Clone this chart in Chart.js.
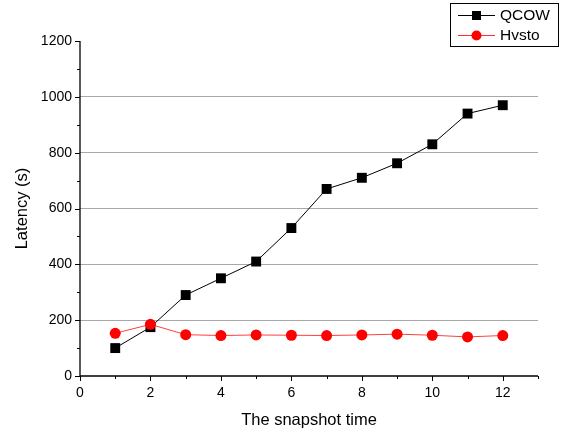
<!DOCTYPE html>
<html><head><meta charset="utf-8">
<script src="https://cdn.jsdelivr.net/npm/chart.js@4/dist/chart.umd.min.js"></script>
<style>html,body{margin:0;padding:0;background:#fff}#wrap{width:566px;height:435px;position:relative}</style>
</head><body><div id="wrap"><canvas id="c" width="566" height="435"></canvas></div>
<script>
const snapshots = [1,2,3,4,5,6,7,8,9,10,11,12];
const qcow = [100,175,290,350,410,530,670,710,762,830,940,970];
const hvsto = [153,185,148,145,147,146,145,147,150,146,140,145];
const seriesNames = ['QCOW','Hvsto'];
const xTitle = 'The snapshot time';
const yTitle = 'Latency (s)';
const FONT = '"Liberation Sans", Arial, sans-serif';

const axisPlugin = {
  id: 'axisTicks',
  afterDraw(chart) {
    const ctx = chart.ctx, x = chart.scales.x, y = chart.scales.y, a = chart.chartArea;
    ctx.save();
    ctx.strokeStyle = '#000'; ctx.lineWidth = 1.3;
    ctx.beginPath();
    ctx.moveTo(a.left, a.top); ctx.lineTo(a.left, a.bottom + 0.5);
    ctx.moveTo(a.left, a.bottom); ctx.lineTo(a.right, a.bottom);
    ctx.stroke();
    ctx.lineWidth = 1;
    ctx.beginPath();
    for (let v = 0; v <= 1200; v += 100) {
      const p = Math.round(y.getPixelForValue(v)) + 0.5;
      const len = v % 200 === 0 ? 5 : 3;
      ctx.moveTo(a.left, p); ctx.lineTo(a.left - len, p);
    }
    for (let v = 0; v <= 13; v += 1) {
      const p = Math.round(x.getPixelForValue(v)) + 0.5;
      const len = v % 2 === 0 ? 5 : 3;
      ctx.moveTo(p, a.bottom); ctx.lineTo(p, a.bottom + len);
    }
    ctx.stroke();
    // legend
    const lx = 450.5, ly = 3.5, lw = 108, lh = 43;
    ctx.fillStyle = '#fff'; ctx.fillRect(lx, ly, lw, lh);
    ctx.strokeStyle = '#000'; ctx.lineWidth = 1; ctx.strokeRect(lx, ly, lw, lh);
    const items = [
      {name: seriesNames[0], color: '#000', style: 'sq', yy: 15},
      {name: seriesNames[1], color: '#ff3030', style: 'ci', yy: 35}
    ];
    ctx.font = '15.5px ' + FONT; ctx.textBaseline = 'middle'; ctx.textAlign = 'left';
    items.forEach(it => {
      ctx.strokeStyle = it.color; ctx.lineWidth = 1;
      ctx.beginPath(); ctx.moveTo(458, it.yy + 0.5); ctx.lineTo(495, it.yy + 0.5); ctx.stroke();
      ctx.fillStyle = it.style === 'sq' ? '#000' : '#ff0000';
      if (it.style === 'sq') ctx.fillRect(472, it.yy - 4, 9, 9);
      else { ctx.beginPath(); ctx.arc(476.5, it.yy + 0.5, 5, 0, Math.PI*2); ctx.fill(); }
      ctx.fillStyle = '#000';
      ctx.fillText(it.name, 500, it.yy + 1);
    });
    ctx.restore();
  }
};

new Chart(document.getElementById('c'), {
  type: 'line',
  data: {
    datasets: [
      {label: seriesNames[0], data: snapshots.map((s,i)=>({x:s,y:qcow[i]})), borderColor:'#000', borderWidth:1,
       backgroundColor:'#000', pointStyle:'rect', pointRadius:7, pointHoverRadius:7, pointBorderWidth:0, order:1, tension:0},
      {label: seriesNames[1], data: snapshots.map((s,i)=>({x:s,y:hvsto[i]})), borderColor:'#ff4040', borderWidth:1,
       backgroundColor:'#ff0000', pointStyle:'circle', pointRadius:5.5, pointHoverRadius:5.5, pointBorderWidth:0, order:0, tension:0}
    ]
  },
  options: {
    responsive:false, animation:false, devicePixelRatio:1,
    layout:{padding:{left:5, top:41, right:28, bottom:5}},
    plugins:{legend:{display:false}, tooltip:{enabled:false}},
    scales:{
      x:{type:'linear', min:0, max:13,
        border:{display:false},
        grid:{display:false, drawTicks:false},
        ticks:{stepSize:1, autoSkip:false, maxRotation:0, padding:9, color:'#000', font:{family:FONT, size:14},
          callback:(v)=> v % 2 === 0 ? String(v) : ''},
        title:{display:true, text:xTitle, color:'#000', font:{family:FONT, size:16.5}, padding:{top:4, bottom:0}},
        afterFit(s){ s.height = 54; }
      },
      y:{min:0, max:1200,
        border:{display:false},
        grid:{drawTicks:false, color:(c)=> (c.tick && c.tick.value>0 && c.tick.value<1200 && c.tick.value%200===0) ? '#a8a8a8' : 'rgba(0,0,0,0)', lineWidth:1},
        ticks:{stepSize:100, autoSkip:false, padding:8, color:'#000', font:{family:FONT, size:14},
          callback:(v)=> v % 200 === 0 ? String(v) : ''},
        title:{display:true, text:yTitle, color:'#000', font:{family:FONT, size:16.5}, padding:{top:8, bottom:4}},
        afterFit(s){ s.width = 75; }
      }
    }
  },
  plugins:[axisPlugin]
});
</script></body></html>
